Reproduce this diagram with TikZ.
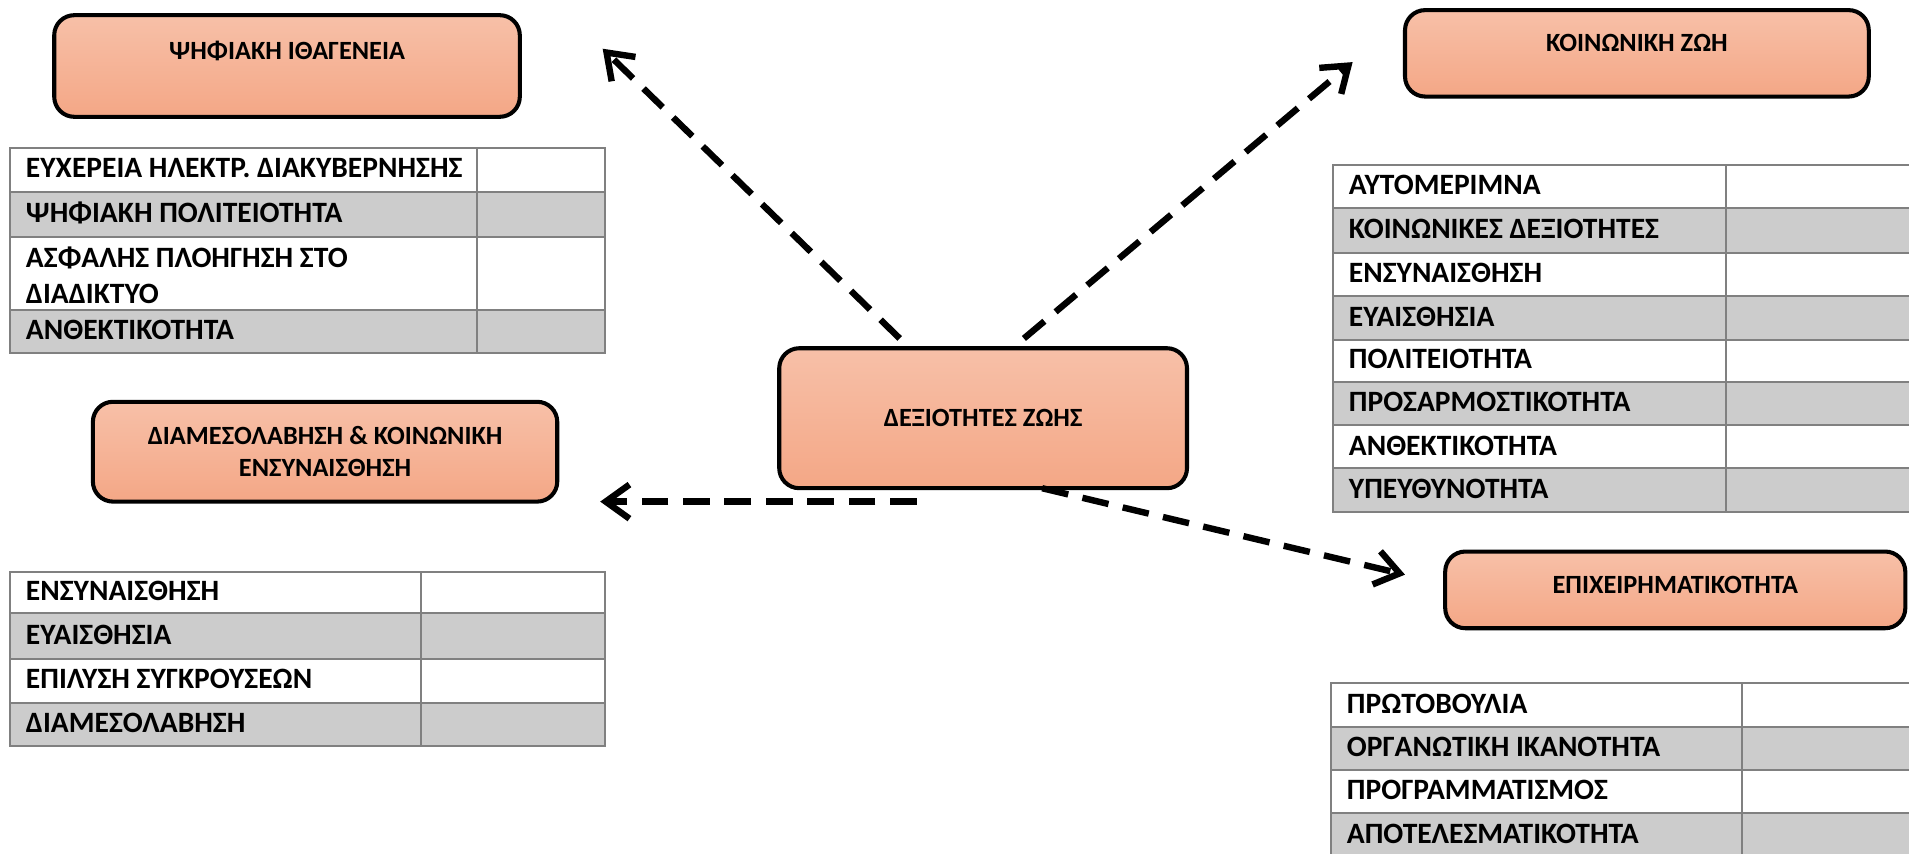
\documentclass[tikz,border=0pt]{standalone}
\usepackage{fontspec}
\setmainfont{Carlito}
\usetikzlibrary{arrows.meta}

\definecolor{salmon top}{RGB}{247,192,168}
\definecolor{salmon bottom}{RGB}{244,167,134}
\definecolor{row gray}{RGB}{204,204,204}
\definecolor{rule gray}{RGB}{128,128,128}

\begin{document}
\begin{tikzpicture}[x=0.02cm, y=-0.02cm, font=\fontsize{12.3}{16.5}\selectfont\bfseries,
  topic/.style={draw=black, line width=1.9pt, rounded corners=0.33cm, top color=salmon top, bottom color=salmon bottom, inner sep=0pt, align=center},
  link/.style={line width=3pt, dash pattern=on 0.44cm off 0.24cm, -{Straight Barb[length=3.9mm, width=5.6mm]}},
  grid rule/.style={draw=rule gray, line width=1pt},
  item/.style={anchor=west, inner sep=0pt, align=left, font=\fontsize{13.8}{16.5}\selectfont\bfseries}]

\clip (0,0) rectangle (1568,701);

\node[topic, minimum width=7.65cm, minimum height=1.67cm, text height=0.27cm, text depth=0.47cm] (digital natives) at (235.75,54.2) {ΨΗΦΙΑΚΗ ΙΘΑΓΕΝΕΙΑ};

\node[topic, minimum width=7.62cm, minimum height=1.42cm, text height=0.27cm, text depth=0.33cm] (social life) at (1344.5,43.8) {ΚΟΙΝΩΝΙΚΗ ΖΩΗ};

\node[topic, minimum width=7.63cm, minimum height=1.64cm, font=\fontsize{12.3}{15.2}\selectfont\bfseries] (mediation) at (267,371) {ΔΙΑΜΕΣΟΛΑΒΗΣΗ \& ΚΟΙΝΩΝΙΚΗ \\ ΕΝΣΥΝΑΙΣΘΗΣΗ};

\node[topic, minimum width=6.7cm, minimum height=2.3cm] (life skills) at (807.5,343.5) {ΔΕΞΙΟΤΗΤΕΣ ΖΩΗΣ};

\node[topic, minimum width=7.56cm, minimum height=1.26cm, text height=0.27cm, text depth=0.16cm] (enterprise) at (1376,484.5) {ΕΠΙΧΕΙΡΗΜΑΤΙΚΟΤΗΤΑ};

\coordinate (skills nw) at (739,278);
\coordinate (skills ne) at (841,278);
\coordinate (skills w) at (753,412);
\coordinate (skills se) at (856,401);
\coordinate (to digital) at (495,40);
\coordinate (to social) at (1111,51);
\coordinate (to mediation) at (493,412);
\coordinate (to enterprise) at (1154,472);

\draw[link] (skills nw) -- (to digital);
\draw[link] (skills ne) -- (to social);
\draw[link] (skills w) -- (to mediation);
\draw[link] (skills se) -- (to enterprise);

% digital natives table
\fill[row gray] (8,157.4) rectangle (496.7,195);
\fill[row gray] (8,254.6) rectangle (496.7,290.2);
\draw[grid rule] (8,121.8) rectangle (496.7,290.2);
\draw[grid rule] (8,157.4) -- (496.7,157.4) (8,195) -- (496.7,195) (8,254.6) -- (496.7,254.6) (392,121.8) -- (392,290.2);
\node[item] (natives 1) at (21,138) {ΕΥΧΕΡΕΙΑ ΗΛΕΚΤΡ. ΔΙΑΚΥΒΕΡΝΗΣΗΣ};
\node[item] (natives 2) at (21,175) {ΨΗΦΙΑΚΗ ΠΟΛΙΤΕΙΟΤΗΤΑ};
\node[item] (natives 3) at (21,226) {ΑΣΦΑΛΗΣ ΠΛΟΗΓΗΣΗ ΣΤΟ \\ ΔΙΑΔΙΚΤΥΟ};
\node[item] (natives 4) at (21,271) {ΑΝΘΕΚΤΙΚΟΤΗΤΑ};

% mediation table
\fill[row gray] (8,503.8) rectangle (496.7,541.5);
\fill[row gray] (8,577.1) rectangle (496.7,612.7);
\draw[grid rule] (8,469.5) rectangle (496.7,612.7);
\draw[grid rule] (8,503.8) -- (496.7,503.8) (8,541.5) -- (496.7,541.5) (8,577.1) -- (496.7,577.1) (345.8,469.5) -- (345.8,612.7);
\node[item] (mediation 1) at (21,485.5) {ΕΝΣΥΝΑΙΣΘΗΣΗ};
\node[item] (mediation 2) at (21,521.5) {ΕΥΑΙΣΘΗΣΙΑ};
\node[item] (mediation 3) at (21,558) {ΕΠΙΛΥΣΗ ΣΥΓΚΡΟΥΣΕΩΝ};
\node[item] (mediation 4) at (21,593.5) {ΔΙΑΜΕΣΟΛΑΒΗΣΗ};

% social life table
\foreach \top/\bot in {171.1/207.5, 243.1/279.3, 313.5/349, 384.7/420.3}
  \fill[row gray] (1094.8,\top) rectangle (1600,\bot);
\draw[grid rule] (1094.8,135.5) rectangle (1600,420.3);
\foreach \y in {171.1, 207.5, 243.1, 279.3, 313.5, 349, 384.7}
  \draw[grid rule] (1094.8,\y) -- (1600,\y);
\draw[grid rule] (1417.7,135.5) -- (1417.7,420.3);
\node[item] (social 1) at (1107.6,152) {ΑΥΤΟΜΕΡΙΜΝΑ};
\node[item] (social 2) at (1107.6,188) {ΚΟΙΝΩΝΙΚΕΣ ΔΕΞΙΟΤΗΤΕΣ};
\node[item] (social 3) at (1107.6,224) {ΕΝΣΥΝΑΙΣΘΗΣΗ};
\node[item] (social 4) at (1107.6,260) {ΕΥΑΙΣΘΗΣΙΑ};
\node[item] (social 5) at (1107.6,295) {ΠΟΛΙΤΕΙΟΤΗΤΑ};
\node[item] (social 6) at (1107.6,330) {ΠΡΟΣΑΡΜΟΣΤΙΚΟΤΗΤΑ};
\node[item] (social 7) at (1107.6,366) {ΑΝΘΕΚΤΙΚΟΤΗΤΑ};
\node[item] (social 8) at (1107.6,401.5) {ΥΠΕΥΘΥΝΟΤΗΤΑ};

% enterprise table
\fill[row gray] (1093,596.9) rectangle (1600,632.4);
\fill[row gray] (1093,668) rectangle (1600,704);
\draw[grid rule] (1093,561.2) rectangle (1600,704);
\draw[grid rule] (1093,596.9) -- (1600,596.9) (1093,632.4) -- (1600,632.4) (1093,668) -- (1600,668) (1430.8,561.2) -- (1430.8,704);
\node[item] (enterprise 1) at (1106,578) {ΠΡΩΤΟΒΟΥΛΙΑ};
\node[item] (enterprise 2) at (1106,613.5) {ΟΡΓΑΝΩΤΙΚΗ ΙΚΑΝΟΤΗΤΑ};
\node[item] (enterprise 3) at (1106,649) {ΠΡΟΓΡΑΜΜΑΤΙΣΜΟΣ};
\node[item] (enterprise 4) at (1106,685) {ΑΠΟΤΕΛΕΣΜΑΤΙΚΟΤΗΤΑ};
\end{tikzpicture}
\end{document}
